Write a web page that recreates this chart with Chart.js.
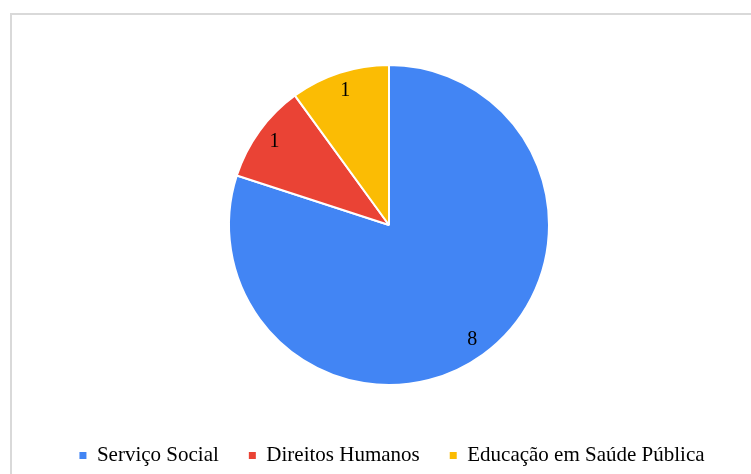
<!DOCTYPE html>
<html>
<head>
<meta charset="utf-8">
<script src="https://cdn.jsdelivr.net/npm/chart.js@4/dist/chart.umd.min.js"></script>
<style>
html,body{margin:0;padding:0;background:#fff;}
#wrap{position:relative;width:751px;height:474px;}
</style>
</head>
<body>
<div id="wrap"><canvas id="c" width="751" height="474"></canvas></div>
<script>
const categories = ["Serviço Social", "Direitos Humanos", "Educação em Saúde Pública"];
const values = [8, 1, 1];
const colors = ["#4285F4", "#EA4335", "#FBBC04"];

const SERIF = '"Liberation Serif", "Times New Roman", serif';

const frame = {
  id: 'frame',
  beforeDraw(chart) {
    const ctx = chart.ctx;
    ctx.save();
    ctx.fillStyle = '#fff';
    ctx.fillRect(0, 0, chart.width, chart.height);
    ctx.fillStyle = '#d9d9d9';
    ctx.fillRect(10, 13, chart.width - 10, 2);
    ctx.fillRect(10, 13, 2, chart.height - 13);
    ctx.restore();
  }
};

const legendShift = {
  id: 'legendShift',
  afterLayout(chart) {
    const lg = chart.legend;
    if (lg) { lg.left += 3; lg.right += 3; lg.top += 2; lg.bottom += 2; }
  }
};

const sliceLabels = {
  id: 'sliceLabels',
  afterDatasetsDraw(chart) {
    const ctx = chart.ctx;
    const meta = chart.getDatasetMeta(0);
    ctx.save();
    ctx.font = '20px ' + SERIF;
    ctx.fillStyle = '#000';
    ctx.textAlign = 'center';
    ctx.textBaseline = 'middle';
    meta.data.forEach((arc, i) => {
      const p = arc.getProps(['x', 'y', 'startAngle', 'endAngle', 'outerRadius'], true);
      const mid = (p.startAngle + p.endAngle) / 2;
      const r = p.outerRadius * 0.885;
      ctx.fillText(String(values[i]), p.x + Math.cos(mid) * r, p.y + Math.sin(mid) * r);
    });
    ctx.restore();
  }
};

new Chart(document.getElementById('c'), {
  type: 'pie',
  data: {
    labels: categories,
    datasets: [{
      data: values,
      backgroundColor: colors,
      borderColor: '#ffffff',
      borderWidth: 2,
      radius: 160
    }]
  },
  options: {
    responsive: false,
    animation: false,
    layout: { padding: { top: 37, left: 27, right: 0, bottom: 0 } },
    plugins: {
      tooltip: { enabled: false },
      legend: {
        position: 'bottom',
        labels: {
          boxWidth: 7,
          boxHeight: 7,
          padding: 30,
          color: '#000',
          font: { family: SERIF, size: 21 },
          generateLabels(chart) {
            return Chart.controllers.pie.overrides.plugins.legend.labels.generateLabels(chart).map(l => {
              l.lineWidth = 0;
              l.strokeStyle = l.fillStyle;
              return l;
            });
          }
        }
      }
    }
  },
  plugins: [frame, legendShift, sliceLabels]
});
</script>
</body>
</html>
